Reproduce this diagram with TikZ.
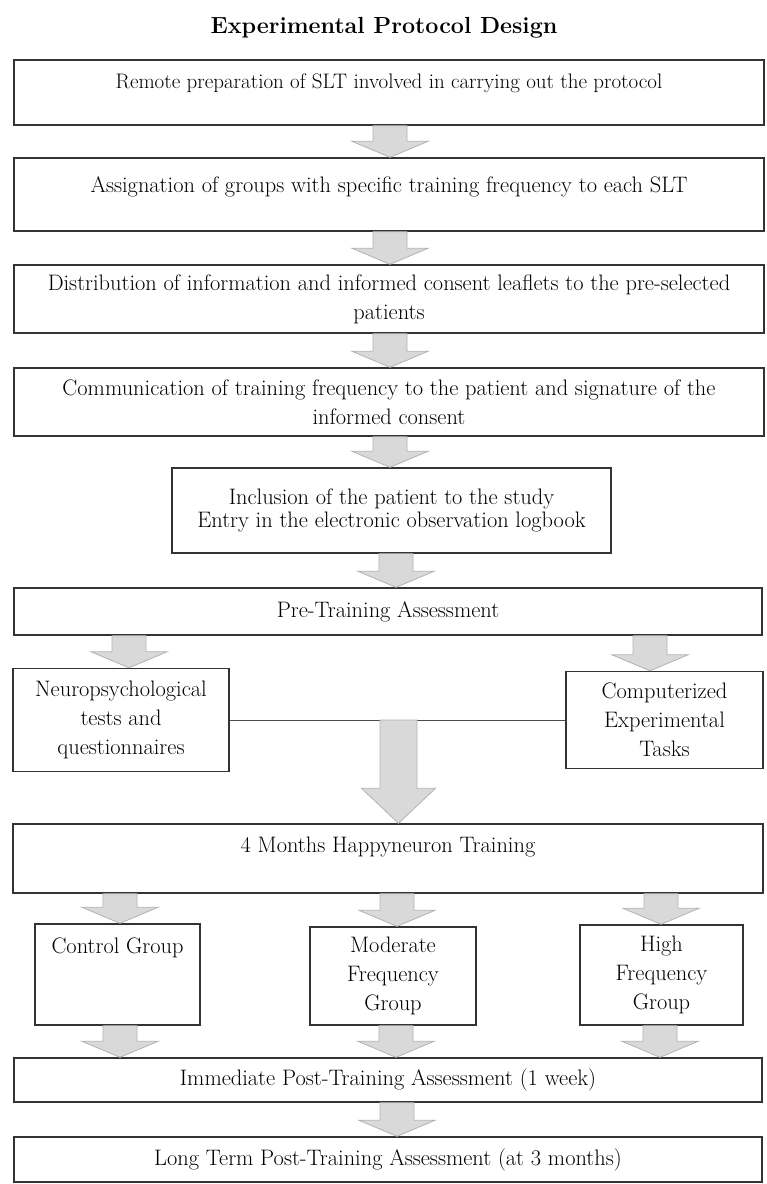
\documentclass[tikz,border=0pt]{standalone}
\usepackage{tikz}
\usetikzlibrary{calc,positioning}

% broad grey arrow between two points, at a given x
\newcommand{\fatarrow}[4][17/38/16]{%
  \foreach \s/\h/\l in {#1}{%
    \filldraw[fat] let \p1=(#2), \p2=(#3), \p3=(#4,0) in
      ({\x3-\s*1pt},\y1) -- ({\x3+\s*1pt},\y1) -- ({\x3+\s*1pt},{\y2+\l*1pt})
      -- ({\x3+\h*1pt},{\y2+\l*1pt}) -- (\x3,\y2) -- ({\x3-\h*1pt},{\y2+\l*1pt})
      -- ({\x3-\s*1pt},{\y2+\l*1pt}) -- cycle;}}

\begin{document}
\begin{tikzpicture}[x=1pt,y=-1pt,
  box/.style={draw=black!80,line width=1.4pt,align=center,inner sep=0pt,
    font=\fontsize{22.4}{29}\selectfont},
  fat/.style={fill=gray!30,draw=gray!60,line width=0.8pt}]
\useasboundingbox (0,0) rectangle (767,1184);
\node (title) [font=\bfseries\fontsize{23.3}{28}\selectfont] at (384,28) {Experimental Protocol Design};
\node (prep) [box,minimum width=750pt,minimum height=65pt,text depth=23pt,font=\fontsize{21}{29}\selectfont] at (389,92.5) {Remote preparation of SLT involved in carrying out the protocol};
\node (assign) [box,minimum width=750pt,minimum height=73pt,text depth=19.3pt] at (389,194.5) {Assignation of groups with specific training frequency to each SLT};
\node (leaflet) [box,minimum width=750pt,minimum height=68pt] at (389,299) {Distribution of information and informed consent leaflets to the pre-selected\\patients};
\node (consent) [box,minimum width=750pt,minimum height=68pt] at (389,402) {Communication of training frequency to the patient and signature of the\\informed consent};
\node (incl) [box,minimum width=439pt,minimum height=85pt,font=\fontsize{22.4}{23}\selectfont] at (391.5,510.5) {Inclusion of the patient to the study\\Entry in the electronic observation logbook};
\node (pre) [box,minimum width=748pt,minimum height=47pt] at (388,611.5) {Pre-Training Assessment};
\node (neuro) [box,minimum width=216pt,minimum height=103pt] at (121,720) {Neuropsychological\\tests and\\questionnaires};
\node (comp) [box,minimum width=197pt,minimum height=97pt] at (664.5,720) {Computerized\\Experimental\\Tasks};
\coordinate (join) at ($(neuro.east)!0.5!(comp.west)$);
\node (train) [box,minimum width=750pt,minimum height=69pt,text depth=27.3pt] at (388,858.5) {4 Months Happyneuron Training};
\node (ctrl) [box,minimum width=165pt,minimum height=101pt,text depth=57.3pt] at (117.5,974.5) {Control Group};
\node (mod) [box,minimum width=166pt,minimum height=98pt] at (393,976) {Moderate\\Frequency\\Group};
\node (high) [box,minimum width=163pt,minimum height=100pt] at (661.5,975) {High\\Frequency\\Group};
\node (post) [box,minimum width=748pt,minimum height=44pt] at (388,1080) {Immediate Post-Training Assessment (1 week)};
\node (long) [box,minimum width=748pt,minimum height=45pt] at (388,1159.5) {Long Term Post-Training Assessment (at 3 months)};

\draw [black!70,line width=1pt] (neuro.east) -- (comp.west);
\fatarrow{prep.south}{assign.north}{390}
\fatarrow{assign.south}{leaflet.north}{390}
\fatarrow{leaflet.south}{consent.north}{390}
\fatarrow{consent.south}{incl.north}{390}
\fatarrow{incl.south}{pre.north}{396}
\fatarrow{pre.south}{neuro.north}{129}
\fatarrow{pre.south}{comp.north}{650}
\fatarrow[18.5/37/35]{join}{train.north}{398.5}
\fatarrow{train.south}{ctrl.north}{120}
\fatarrow{train.south}{mod.north}{397}
\fatarrow{train.south}{high.north}{661}
\fatarrow{ctrl.south}{post.north}{120}
\fatarrow{mod.south}{post.north}{396}
\fatarrow{high.south}{post.north}{660}
\fatarrow{post.south}{long.north}{397}
\end{tikzpicture}
\end{document}
